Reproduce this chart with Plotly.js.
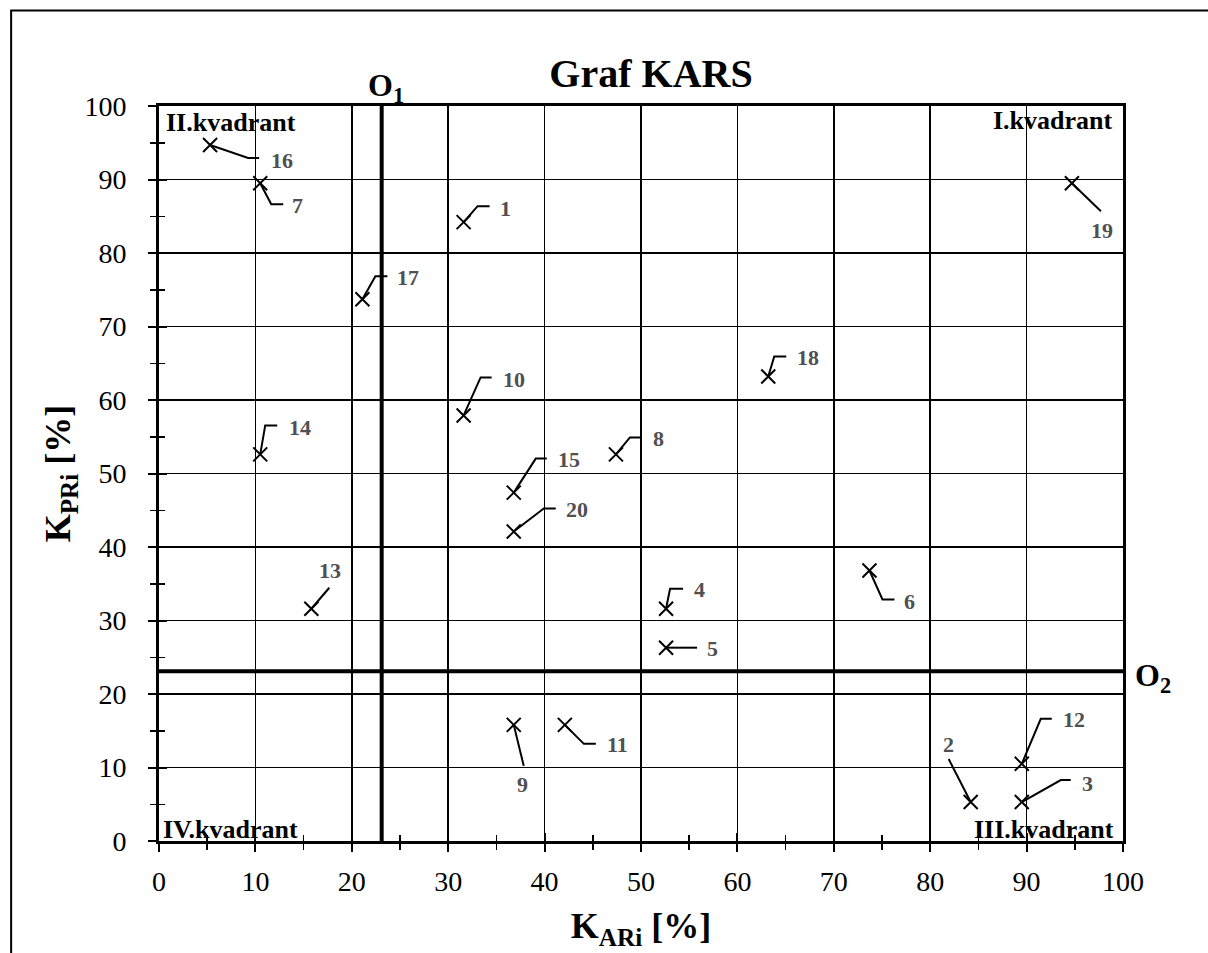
<!DOCTYPE html>
<html>
<head>
<meta charset="utf-8">
<script src="https://cdn.plot.ly/plotly-3.0.1.min.js"></script>
<style>html,body{margin:0;padding:0;background:#fff}#chart{width:1208px;height:953px}</style>
</head>
<body>
<div id="chart"></div>
<script>
// ---- data ----
const pointIds = ["1","2","3","4","5","6","7","8","9","10","11","12","13","14","15","16","17","18","19","20"];
const kARi = [31.6, 84.2, 89.5, 52.6, 52.6, 73.7, 10.5, 47.4, 36.8, 31.6, 42.1, 89.5, 15.8, 10.5, 36.8, 5.3, 21.1, 63.2, 94.7, 36.8];
const kPRi = [84.2, 5.3, 5.3, 31.6, 26.3, 36.8, 89.5, 52.6, 15.8, 57.9, 15.8, 10.5, 31.6, 52.6, 47.4, 94.7, 73.7, 63.2, 89.5, 42.1];
const o1Value = 23.1;   // O1 vertical divider (K_ARi)
const o2Value = 23.1;   // O2 horizontal divider (K_PRi)
const quadrantNames = ["I.kvadrant", "II.kvadrant", "III.kvadrant", "IV.kvadrant"];
const xTickVals = [0,10,20,30,40,50,60,70,80,90,100];
const yTickVals = [0,10,20,30,40,50,60,70,80,90,100];

// ---- label placement (pixel offsets from each point, y downward) ----
const labelPlacement = {
  "1":  {lead:[[14,-16],[26,-16]], lab:[34,-14,"left"]},
  "2":  {lead:[[-22,-43]],          lab:[-22,-58,"center"]},
  "3":  {lead:[[39,-22],[49,-22]], lab:[58,-19,"left"]},
  "4":  {lead:[[4,-20],[17,-20]],  lab:[26,-19,"left"]},
  "5":  {lead:[[31,0]],             lab:[39,1,"left"]},
  "6":  {lead:[[13,29],[25,29]],   lab:[33,31,"left"]},
  "7":  {lead:[[11,21],[23,21]],   lab:[30,22,"left"]},
  "8":  {lead:[[14,-17],[26,-17]], lab:[35,-16,"left"]},
  "9":  {lead:[[10,41]],            lab:[9,60,"center"]},
  "10": {lead:[[17,-38],[28,-38]], lab:[37,-36,"left"]},
  "11": {lead:[[19,19],[31,19]],   lab:[40,20,"left"]},
  "12": {lead:[[19,-45],[30,-45]], lab:[39,-44,"left"]},
  "13": {lead:[[18,-21]],           lab:[19,-38,"center"]},
  "14": {lead:[[5,-29],[17,-29]],  lab:[27,-27,"left"]},
  "15": {lead:[[22,-34],[33,-34]], lab:[42,-33,"left"]},
  "16": {lead:[[38,13],[49,13]],   lab:[59,16,"left"]},
  "17": {lead:[[13,-23],[25,-23]], lab:[33,-22,"left"]},
  "18": {lead:[[6,-20],[18,-20]],  lab:[27,-19,"left"]},
  "19": {lead:[[29,28]],            lab:[30,47,"center"]},
  "20": {lead:[[30,-23],[42,-23]], lab:[50,-22,"left"]}
};

const FONT = "Liberation Serif, Times New Roman, serif";

const traces = [
  {
    type: "scatter", mode: "markers",
    x: kARi, y: kPRi, text: pointIds,
    marker: {symbol: "x-thin", size: 14, color: "#000", line: {color: "#000", width: 2}},
    hoverinfo: "x+y+text", showlegend: false, cliponaxis: false
  },
  { type: "scatter", mode: "markers", x: [null], y: [null], xaxis: "x2", yaxis: "y2",
    showlegend: false, hoverinfo: "skip" }
];

const shapes = [];
const annotations = [];

// O1 and O2 divider lines
shapes.push({type:"line", xref:"x", yref:"paper", x0:o1Value, x1:o1Value, y0:0, y1:1, line:{color:"#000", width:4}});
shapes.push({type:"line", xref:"paper", yref:"y", x0:0, x1:1, y0:o2Value, y1:o2Value, line:{color:"#000", width:4}});

// outer frame (open at right/bottom like reference)
shapes.push({type:"path", xref:"paper", yref:"paper", layer:"above",
  path:"M -0.1534,-0.3 L -0.1534,1.13 L 1.3,1.13", line:{color:"#000", width:2}});

// leaders + labels
pointIds.forEach((id, i) => {
  const p = labelPlacement[id];
  let d = "M 0,0";
  p.lead.forEach(pt => { d += " L " + pt[0] + "," + (-pt[1]); });
  shapes.push({type:"path", xref:"x", yref:"y", xsizemode:"pixel", ysizemode:"pixel",
    xanchor: kARi[i], yanchor: kPRi[i], path: d, line:{color:"#000", width:2}});
  annotations.push({xref:"x", yref:"y", x:kARi[i], y:kPRi[i], text:"<b>"+id+"</b>", showarrow:false,
    xanchor:p.lab[2], yanchor:"middle", xshift:p.lab[0], yshift:-p.lab[1],
    font:{family:FONT, size:22, color:"#505050"}});
});

// quadrant names
const qFont = {family:FONT, size:26, color:"#000"};
annotations.push({xref:"paper", yref:"paper", x:0.9912, y:0.980, xanchor:"right", yanchor:"middle", text:"<b>"+quadrantNames[0]+"</b>", showarrow:false, font:qFont});
annotations.push({xref:"paper", yref:"paper", x:0.0047, y:0.978, xanchor:"left", yanchor:"middle", text:"<b>"+quadrantNames[1]+"</b>", showarrow:false, font:qFont});
annotations.push({xref:"paper", yref:"paper", x:0.993, y:0.0156, xanchor:"right", yanchor:"middle", text:"<b>"+quadrantNames[2]+"</b>", showarrow:false, font:qFont});
annotations.push({xref:"paper", yref:"paper", x:0.0016, y:0.0156, xanchor:"left", yanchor:"middle", text:"<b>"+quadrantNames[3]+"</b>", showarrow:false, font:qFont});

// O1 / O2 labels
annotations.push({xref:"x", yref:"paper", x:o1Value, y:1, xanchor:"center", yanchor:"bottom", xshift:4, yshift:-4,
  text:"<b>O<sub>1</sub></b>", showarrow:false, font:{family:FONT, size:32, color:"#000"}});
annotations.push({xref:"paper", yref:"y", x:1, y:o2Value, xanchor:"left", yanchor:"middle", xshift:10, yshift:-6,
  text:"<b>O<sub>2</sub></b>", showarrow:false, font:{family:FONT, size:32, color:"#000"}});

const axisCommon = {
  range:[0,100], autorange:false, fixedrange:true,
  showgrid:true, gridcolor:"#000", gridwidth:1.5,
  zeroline:false, showline:true, linecolor:"#000", linewidth:3, mirror:true,
  ticks:"outside", ticklen:8, tickwidth:2, tickcolor:"#000",
  minor:{dtick:5, ticks:"outside", ticklen:6, tickwidth:1.5, tickcolor:"#000", showgrid:false},
  tickfont:{family:FONT, size:28, color:"#000"}
};

const layout = {
  width:1208, height:953,
  paper_bgcolor:"#fff", plot_bgcolor:"#fff",
  margin:{l:158.5, r:84.5, t:105.5, b:111.5, pad:0},
  title:{text:"<b>Graf KARS</b>", font:{family:FONT, size:40, color:"#000"},
    xref:"paper", x:0.5104, xanchor:"center", yref:"container", y:0.923, yanchor:"middle"},
  xaxis: Object.assign({}, axisCommon, {
    tickmode:"array", tickvals:xTickVals, ticktext:xTickVals.map(String),
    ticklabelstandoff:5,
    title:{text:"<b>K<sub>ARi</sub> [%]</b>", font:{family:FONT, size:36, color:"#000"}, standoff:18}
  }),
  yaxis: Object.assign({}, axisCommon, {
    tickmode:"array", tickvals:yTickVals, ticktext:yTickVals.map(String),
    ticklabelstandoff:16,
    title:{text:"<b>K<sub>PRi</sub> [%]</b>", font:{family:FONT, size:36, color:"#000"}, standoff:3}
  }),
  xaxis2:{overlaying:"x", matches:"x", anchor:"y2", side:"bottom", range:[0,100], showgrid:false, zeroline:false, showline:false,
    ticks:"inside", ticklen:8, tickwidth:2, tickcolor:"#000", showticklabels:false, tickvals:xTickVals,
    minor:{dtick:5, ticks:"inside", ticklen:6, tickwidth:1.5, tickcolor:"#000", showgrid:false}, fixedrange:true},
  yaxis2:{overlaying:"y", matches:"y", anchor:"x2", side:"left", range:[0,100], showgrid:false, zeroline:false, showline:false,
    ticks:"inside", ticklen:8, tickwidth:2, tickcolor:"#000", showticklabels:false, tickvals:yTickVals,
    minor:{dtick:5, ticks:"inside", ticklen:6, tickwidth:1.5, tickcolor:"#000", showgrid:false}, fixedrange:true},
  shapes: shapes,
  annotations: annotations,
  showlegend:false
};

Plotly.newPlot("chart", traces, layout, {displayModeBar:false, staticPlot:true});
</script>
</body>
</html>
